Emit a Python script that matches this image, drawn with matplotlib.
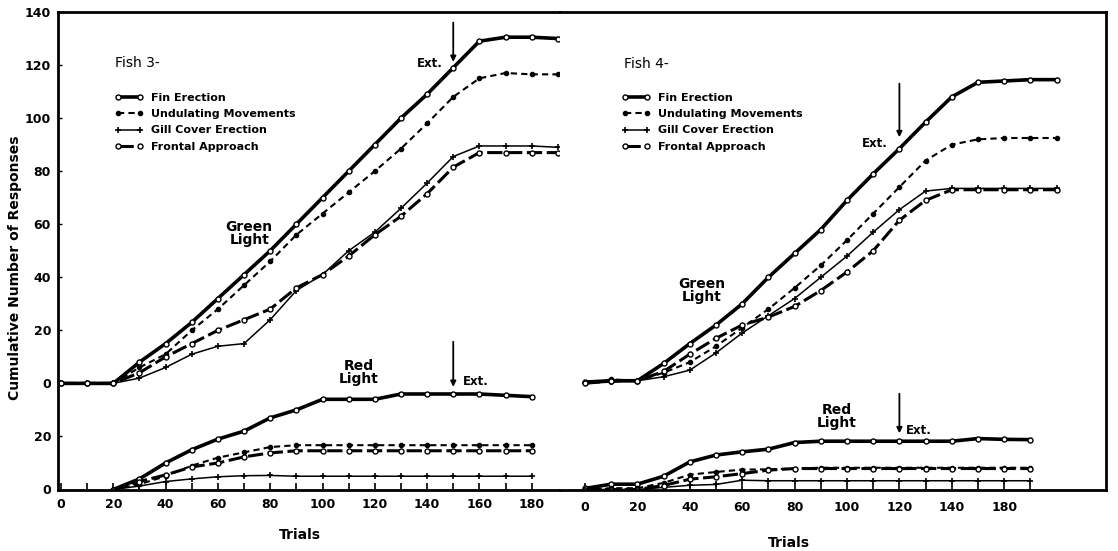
import matplotlib.pyplot as plt
import numpy as np

# trial numbers for each curve
f3_green_x = np.arange(0, 200, 10)
f3_red_x = np.arange(20, 190, 10)
f4_green_x = np.arange(0, 190, 10)
f4_red_x = np.arange(0, 180, 10)

# Fish 3 - green light
f3_green_fin = [0, 0, 0, 8, 15, 23, 32, 41, 50, 60, 70, 80, 90, 100, 109, 119, 129, 130.5, 130.5, 130]
f3_green_und = [0, 0, 0, 6, 11, 20, 28, 37, 46, 56, 64, 72, 80, 88.5, 98, 108, 115, 117, 116.5, 116.5]
f3_green_gill = [0, 0, 0, 2, 6, 11, 14, 15, 24, 35, 41, 50, 57, 66, 75.5, 85.5, 89.5, 89.5, 89.5, 89]
f3_green_front = [0, 0, 0, 4, 10, 15, 20, 24, 28, 36, 41, 48, 56, 63, 71.5, 81.5, 87, 87, 87, 87]

# Fish 3 - red light
f3_red_fin = [0, 4, 10, 15, 19, 22, 27, 30, 34, 34, 34, 36, 36, 36, 36, 35.5, 35]
f3_red_und = [0, 2, 5, 9, 12, 14, 16, 16.7, 16.7, 16.7, 16.7, 16.7, 16.7, 16.7, 16.7, 16.7, 16.7]
f3_red_gill = [0, 1.3, 3, 4, 4.8, 5.2, 5.3, 5, 5, 5, 5, 5, 5, 5, 5, 5, 5]
f3_red_front = [0, 3, 5.5, 8.5, 10, 12.3, 13.8, 14.6, 14.6, 14.6, 14.6, 14.6, 14.6, 14.6, 14.6, 14.6, 14.6]

# Fish 4 - green light
f4_green_fin = [0.5, 1, 1, 7.5, 15, 22, 30, 40, 49, 58, 69, 79, 88.5, 98.5, 108, 113.5, 114, 114.5, 114.5]
f4_green_und = [0, 1.5, 1, 4, 8, 14, 21, 28, 36, 44.5, 54, 64, 74, 84, 90, 92, 92.5, 92.5, 92.5]
f4_green_gill = [0, 0.5, 1, 2.5, 5, 11.5, 19, 25.5, 32, 40, 48, 57, 65.5, 72.5, 73.5, 73.5, 73.5, 73.5, 73.5]
f4_green_front = [0, 1, 1, 4.5, 11, 17, 22, 25, 29, 35, 42, 50, 61.5, 69, 73, 73, 73, 73, 73]

# Fish 4 - red light
f4_red_fin = [0.4, 2, 2, 5, 10.4, 13, 14.2, 15.2, 17.7, 18.2, 18.2, 18.2, 18.2, 18.2, 18.2, 19.2, 18.9, 18.8]
f4_red_und = [0, 0.5, 0.5, 2.5, 5.6, 6.6, 7.5, 7.6, 7.9, 8.2, 8.2, 8.2, 8.2, 8.2, 8.2, 8.2, 8.2, 8.2]
f4_red_gill = [0, 0, 0, 0.8, 1.6, 1.9, 3.5, 3.3, 3.3, 3.3, 3.3, 3.3, 3.3, 3.3, 3.3, 3.3, 3.3, 3.3]
f4_red_front = [0, 0, 0, 1.5, 3.9, 4.8, 6, 7.3, 7.9, 7.9, 7.9, 7.9, 7.9, 7.9, 7.9, 7.9, 7.9, 7.9]

labels = ['Fin Erection', 'Undulating Movements', 'Gill Cover Erection', 'Frontal Approach']
y_ticks = [-40, -20, 0, 20, 40, 60, 80, 100, 120, 140]
y_ticklabels = ['0', '20', '0', '20', '40', '60', '80', '100', '120', '140']
f3_xticklabels = ['0', '20', '40', '60', '80', '100', '120', '140', '160', '180']
f4_xticklabels = ['0', '20', '40', '60', '80', '100', '120', '140', '180']

RED_SHIFT = -40  # red light curves sit on the lower scale

styles = [
    dict(ls='-', lw=2.6, marker='o', ms=3.6, mfc='white', mec='black', mew=1.0),
    dict(ls=(0, (3, 2)), lw=1.5, marker='o', ms=3.0, mfc='black', mec='black'),
    dict(ls='-', lw=1.1, marker='+', ms=4.5, mec='black', mew=1.2),
    dict(ls=(0, (5, 1.5)), lw=2.2, marker='o', ms=3.6, mfc='white', mec='black', mew=1.0),
]

bold = dict(fontweight='bold', family='DejaVu Sans')

fig = plt.figure(figsize=(11.18, 5.51), dpi=100)
ax1 = fig.add_axes([58 / 1118, 1 - 489.5 / 551, (560 - 58) / 1118, 477.5 / 551])
ax2 = fig.add_axes([560 / 1118, 1 - 489.5 / 551, (1106 - 560) / 1118, 477.5 / 551])


def draw_panel(ax, gx, greens, rx, reds):
    for g, r, st, lab in zip(greens, reds, styles, labels):
        ax.plot(gx, g, color='black', label=lab, **st)
        ax.plot(rx, np.array(r) + RED_SHIFT, color='black', **st)


draw_panel(ax1, f3_green_x, [f3_green_fin, f3_green_und, f3_green_gill, f3_green_front],
           f3_red_x, [f3_red_fin, f3_red_und, f3_red_gill, f3_red_front])
draw_panel(ax2, f4_green_x, [f4_green_fin, f4_green_und, f4_green_gill, f4_green_front],
           f4_red_x, [f4_red_fin, f4_red_und, f4_red_gill, f4_red_front])

for ax in (ax1, ax2):
    ax.set_ylim(-40, 140)
    for s in ax.spines.values():
        s.set_linewidth(2)
    ax.legend(handles=ax.get_lines()[0::2], loc='upper left', bbox_to_anchor=(0.113, 0.83),
              frameon=False, numpoints=2, handlelength=2.6, handletextpad=0.7,
              labelspacing=0.55, borderpad=0, borderaxespad=0,
              prop=dict(weight='bold', size=8, family='DejaVu Sans'))

# left panel: Fish 3
ax1.set_xlim((58 - 61) / 2.615, (560 - 61) / 2.615)
ax1.spines['right'].set_visible(False)
ax1.set_xticks(np.arange(0, 181, 20))
ax1.set_xticks(np.arange(0, 181, 10), minor=True)
ax1.set_xticklabels(f3_xticklabels, **bold, fontsize=9)
ax1.set_yticks(y_ticks)
ax1.set_yticklabels(y_ticklabels, **bold, fontsize=9)
ax1.tick_params(axis='x', which='both', direction='in', length=5, width=1.2, pad=6)
ax1.tick_params(axis='y', direction='in', length=3, width=1, pad=5)

# right panel: Fish 4
ax2.set_xlim((560 - 585) / 2.62, (1106 - 585) / 2.62)
ax2.spines['left'].set_visible(False)
ax2.set_xticks(np.arange(0, 161, 20))
ax2.set_xticks(np.arange(0, 171, 10), minor=True)
ax2.set_xticklabels(f4_xticklabels, **bold, fontsize=9)
ax2.set_yticks([])
ax2.tick_params(axis='x', which='both', direction='in', length=5, width=1.2, pad=8)

# titles and annotations
ax1.text(20.7, 120.8, 'Fish 3-', fontsize=10, va='center', family='DejaVu Sans')
ax2.text(14.7, 120.4, 'Fish 4-', fontsize=10, va='center', family='DejaVu Sans')

ax1.text(72, 56.6, 'Green\nLight', ha='center', va='center', fontsize=10, linespacing=0.95, **bold)
ax2.text(44.6, 35.1, 'Green\nLight', ha='center', va='center', fontsize=10, linespacing=0.95, **bold)
ax1.text(114, 4.2, 'Red\nLight', ha='center', va='center', fontsize=10, linespacing=0.95, **bold)
ax2.text(96.1, -12.4, 'Red\nLight', ha='center', va='center', fontsize=10, linespacing=0.95, **bold)

arrow = dict(arrowstyle='-|>', lw=1.3, color='black', mutation_scale=8, shrinkA=0, shrinkB=0)
ax1.annotate('', xy=(150, 121.2), xytext=(150, 136), arrowprops=arrow)
ax1.text(146, 120.5, 'Ext.', ha='right', va='center', fontsize=8.5, **bold)
ax1.annotate('', xy=(150, -1.3), xytext=(150, 15.7), arrowprops=arrow)
ax1.text(153.5, 0.6, 'Ext.', ha='left', va='center', fontsize=8.5, **bold)
ax2.annotate('', xy=(120, 92.8), xytext=(120, 113), arrowprops=arrow)
ax2.text(115.5, 90.4, 'Ext.', ha='right', va='center', fontsize=8.5, **bold)
ax2.annotate('', xy=(120, -18.8), xytext=(120, -3.9), arrowprops=arrow)
ax2.text(122.5, -17.6, 'Ext.', ha='left', va='center', fontsize=8.5, **bold)

fig.text(15 / 1118, 1 - 268 / 551, 'Cumulative Number of Responses', rotation=90,
         ha='center', va='center', fontsize=10, **bold)
fig.text(300 / 1118, 1 - 535 / 551, 'Trials', ha='center', va='center', fontsize=10, **bold)
fig.text(789 / 1118, 1 - 543 / 551, 'Trials', ha='center', va='center', fontsize=10, **bold)

fig.savefig('out.png', dpi=100, facecolor='white')
